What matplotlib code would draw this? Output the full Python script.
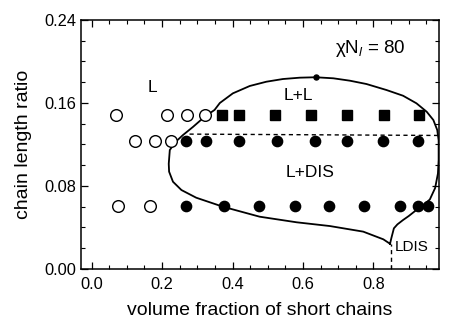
import matplotlib
matplotlib.use("Agg")
import matplotlib.pyplot as plt
from matplotlib.ticker import MultipleLocator

plt.rcParams['font.family'] = ['Liberation Sans', 'DejaVu Sans']
plt.rcParams['mathtext.fontset'] = 'custom'
plt.rcParams['mathtext.rm'] = 'Liberation Sans'
plt.rcParams['mathtext.it'] = 'Liberation Sans:italic'

# ---- data ----
open_x = [0.068, 0.215, 0.272, 0.321, 0.122, 0.179, 0.224, 0.075, 0.165]
open_y = [0.148, 0.148, 0.148, 0.148, 0.123, 0.123, 0.123, 0.061, 0.061]

square_x = [0.371, 0.418, 0.520, 0.622, 0.725, 0.830, 0.929]
square_y = [0.148] * 7

filled_x = [0.269, 0.324, 0.418, 0.525, 0.634, 0.724, 0.828, 0.927,
            0.269, 0.375, 0.475, 0.577, 0.674, 0.773, 0.875, 0.927, 0.955]
filled_y = [0.123] * 8 + [0.061] * 9

boundary_x = [0.847, 0.828, 0.771, 0.676, 0.582, 0.477, 0.373, 0.297, 0.255,
              0.231, 0.220, 0.219, 0.222, 0.239, 0.259, 0.288, 0.321, 0.349,
              0.364, 0.401, 0.449, 0.496, 0.543, 0.591, 0.636, 0.686, 0.733,
              0.780, 0.837, 0.884, 0.922, 0.951, 0.970, 0.981, 0.985, 0.985,
              0.983, 0.975, 0.960, 0.940, 0.922, 0.900, 0.884, 0.868, 0.858,
              0.851, 0.847]
boundary_y = [0.0243, 0.0286, 0.0360, 0.0414, 0.0450, 0.0504, 0.0600, 0.0687,
              0.0761, 0.0841, 0.0938, 0.1014, 0.1147, 0.1227, 0.1290, 0.1370,
              0.1468, 0.1533, 0.1600, 0.1693, 0.1764, 0.1805, 0.1831, 0.1844,
              0.1848, 0.1838, 0.1815, 0.1783, 0.1725, 0.1670, 0.1597, 0.1516,
              0.1436, 0.1340, 0.1240, 0.1050, 0.0920, 0.0780, 0.0670, 0.0610,
              0.0569, 0.0510, 0.0472, 0.0430, 0.0392, 0.0300, 0.0243]

dashed_h_x = [0.278, 0.986]
dashed_h_y = [0.1300, 0.1287]
dashed_v_x = [0.849, 0.849]
dashed_v_y = [0.0, 0.0243]
crit_x, crit_y = 0.636, 0.1848

fig = plt.figure(figsize=(4.59, 3.24), dpi=100)
ax = fig.add_axes([0.1765, 0.1698, 0.7799, 0.7685])

ax.plot(boundary_x, boundary_y, color='black', lw=1.3, zorder=2)
ax.plot(dashed_h_x, dashed_h_y, color='black', lw=1.0, ls=(0, (3, 2.5)), zorder=2)
ax.plot(dashed_v_x, dashed_v_y, color='black', lw=1.0, ls=(0, (3, 2.5)), zorder=2)
ax.plot([crit_x], [crit_y], 'o', color='black', ms=3.6, zorder=3)

ax.plot(open_x, open_y, 'o', mfc='white', mec='black', mew=1.0, ms=8.4, ls='none', zorder=3)
ax.plot(square_x, square_y, 's', color='black', ms=7.6, ls='none', zorder=3)
ax.plot(filled_x, filled_y, 'o', color='black', ms=7.4, ls='none', zorder=3)

ax.text(0.173, 0.1745, 'L', fontsize=12.5, ha='center', va='center')
ax.text(0.586, 0.1677, 'L+L', fontsize=12.5, ha='center', va='center')
ax.text(0.619, 0.0928, 'L+DIS', fontsize=12.5, ha='center', va='center')
ax.text(0.908, 0.0209, 'LDIS', fontsize=11, ha='center', va='center')
ax.text(0.79, 0.2127, r'χN$_{\mathit{l}}$ = 80', fontsize=13.5, ha='center', va='center')

ax.set_xlim(-0.03, 0.986)
ax.set_ylim(0.0, 0.24)
ax.xaxis.set_major_locator(MultipleLocator(0.2))
ax.xaxis.set_minor_locator(MultipleLocator(0.05))
ax.yaxis.set_major_locator(MultipleLocator(0.08))
ax.yaxis.set_minor_locator(MultipleLocator(0.02))
ax.xaxis.set_major_formatter(plt.FuncFormatter(lambda v, p: f'{v:.1f}'))
ax.yaxis.set_major_formatter(plt.FuncFormatter(lambda v, p: f'{v:.2f}'))
ax.tick_params(which='both', direction='in', top=True, right=True, labelsize=11.8)
ax.tick_params(axis='x', which='both', pad=6)
ax.tick_params(which='major', length=5, width=0.9)
ax.tick_params(which='minor', length=3, width=0.8)
for s in ax.spines.values():
    s.set_linewidth(1.1)

ax.set_xlabel('volume fraction of short chains', fontsize=14, labelpad=7)
ax.set_ylabel('chain length ratio', fontsize=14, labelpad=9)

fig.savefig('out.png', dpi=100)
